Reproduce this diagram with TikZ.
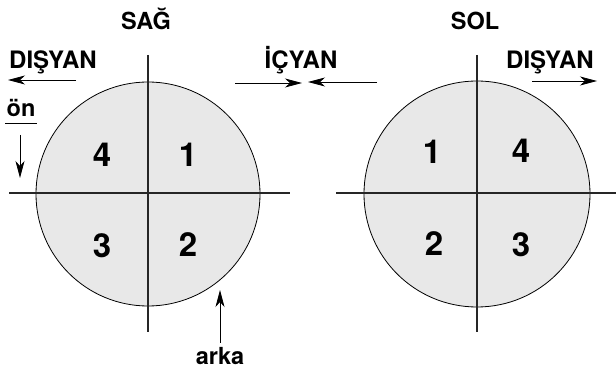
\documentclass[tikz,border=0pt]{standalone}
\usepackage{fontspec}
\setmainfont{TeX Gyre Heros}
\usetikzlibrary{arrows.meta,positioning}
\definecolor{stipple}{RGB}{232,232,232}

\tikzset{
  wheel/.style={draw=black, line width=0.8pt, fill=stipple},
  axis/.style={line width=2.6pt, color=black!85},
  dirarrow/.style={line width=0.8pt, -{Stealth[length=17pt,width=9pt,inset=5pt]}},
  quadnum/.style={anchor=base, font=\bfseries\fontsize{33}{33}\selectfont},
  sidelabel/.style={anchor=base, font=\bfseries\fontsize{23.5}{24}\selectfont},
  dirlabel/.style={anchor=base, font=\bfseries\fontsize{24}{24}\selectfont}
}

\begin{document}
\begin{tikzpicture}[x=1pt, y=-1pt]
\useasboundingbox (0,0) rectangle (616,371);
% right wheel (SAG)
\draw[wheel] (148,194) circle (112);
\coordinate (rv1) at (148,55);  \coordinate (rv2) at (148,332);
\coordinate (rh1) at (9,193);   \coordinate (rh2) at (290,193);
\draw[axis] (rv1) -- (rv2);
\draw[axis] (rh1) -- (rh2);
\node[quadnum] (r4) at (102,167) {4};
\node[quadnum] (r1) at (188,167) {1};
\node[quadnum] (r3) at (102,258) {3};
\node[quadnum] (r2) at (188,257) {2};
% left wheel (SOL)
\draw[wheel] (477,194) circle (113);
\coordinate (lv1) at (477,55);  \coordinate (lv2) at (477,332);
\coordinate (lh1) at (336,193); \coordinate (lh2) at (616,193);
\draw[axis] (lv1) -- (lv2);
\draw[axis] (lh1) -- (lh2);
\node[quadnum] (l1) at (432,164) {1};
\node[quadnum] (l4) at (521,163) {4};
\node[quadnum] (l2) at (434,256) {2};
\node[quadnum] (l3) at (521,257) {3};
% titles
\node[sidelabel] (sag) at (146,30) {SAĞ};
\node[sidelabel] (sol) at (475,30) {SOL};
% direction labels and arrows
\node[dirlabel] (disR) at (53,69) {DIŞYAN};
\coordinate (disRa) at (76,80); \coordinate (disRb) at (8,80);
\draw[dirarrow] (disRa) -- (disRb);
\node[dirlabel] (icyan) at (301,69) {İÇYAN};
\coordinate (icRa) at (235,83); \coordinate (icRb) at (302,83);
\draw[dirarrow] (icRa) -- (icRb);
\coordinate (icLa) at (377,82); \coordinate (icLb) at (308,82);
\draw[dirarrow] (icLa) -- (icLb);
\node[dirlabel] (disL) at (550,69) {DIŞYAN};
\coordinate (disLa) at (532,81); \coordinate (disLb) at (597,81);
\draw[dirarrow] (disLa) -- (disLb);
% front / back
\node[sidelabel] (on) at (21,117) {ön};
\coordinate (onu1) at (5,123); \coordinate (onu2) at (37,123);
\draw[line width=0.6pt] (onu1) -- (onu2);
\coordinate (ona) at (20,135); \coordinate (onb) at (20,178);
\draw[dirarrow] (ona) -- (onb);
\node[sidelabel] (arka) at (220,365) {arka};
\coordinate (arkaa) at (220,343); \coordinate (arkab) at (220,290);
\draw[dirarrow] (arkaa) -- (arkab);
\end{tikzpicture}
\end{document}
